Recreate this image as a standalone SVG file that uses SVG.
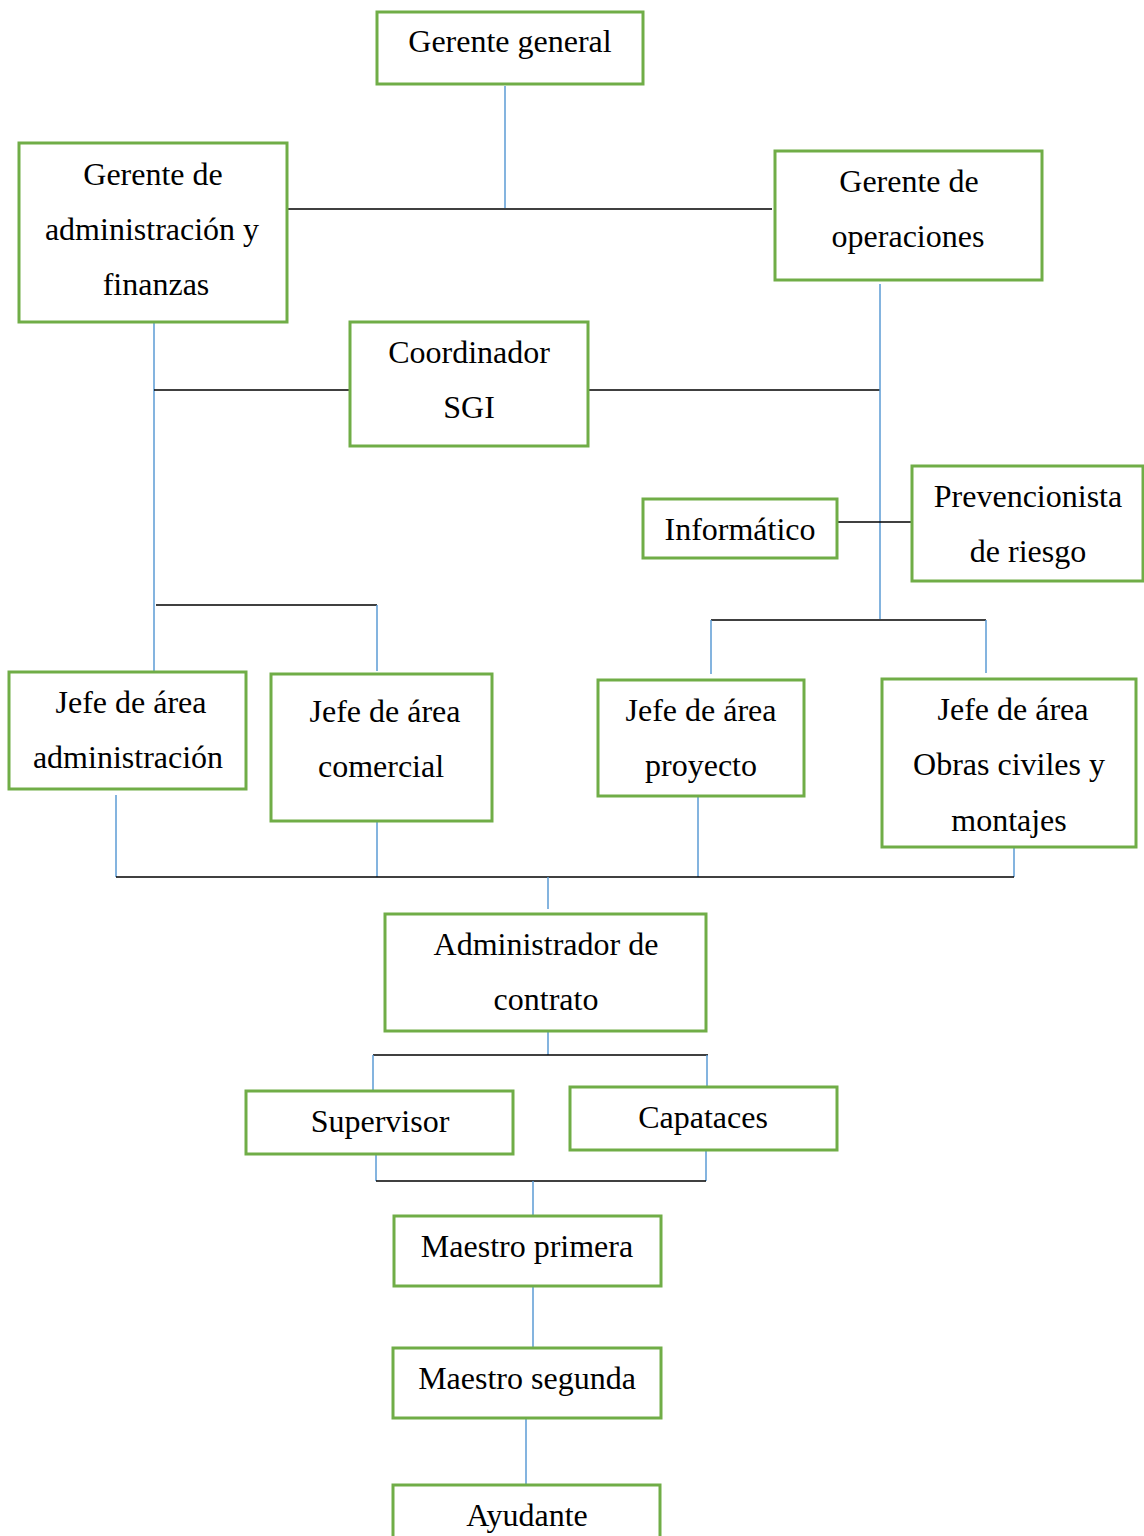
<svg xmlns="http://www.w3.org/2000/svg" width="1144" height="1536" viewBox="0 0 1144 1536">
<style>
.box{fill:#fff;stroke:#70AD47;stroke-width:3}
.t{font-family:"Liberation Serif","Times New Roman",serif;font-size:32px;fill:#000;text-anchor:middle}
.b{stroke:#5B9BD5;stroke-width:1.5;fill:none}
.k{stroke:#000;stroke-width:1.5;fill:none}
</style>
<rect width="1144" height="1536" fill="#fff"/>
<g id="connectors">
<line class="b" x1="505" y1="86" x2="505" y2="208"/>
<line class="k" x1="287" y1="209" x2="772" y2="209"/>
<line class="b" x1="154" y1="323" x2="154" y2="671"/>
<line class="k" x1="154" y1="390" x2="350" y2="390"/>
<line class="k" x1="588" y1="390" x2="880" y2="390"/>
<line class="b" x1="880" y1="284" x2="880" y2="619"/>
<line class="k" x1="837" y1="522" x2="912" y2="522"/>
<line class="k" x1="156" y1="605" x2="377" y2="605"/>
<line class="b" x1="377" y1="605" x2="377" y2="671"/>
<line class="k" x1="711" y1="620" x2="986" y2="620"/>
<line class="b" x1="711" y1="620" x2="711" y2="674"/>
<line class="b" x1="986" y1="620" x2="986" y2="673"/>
<line class="b" x1="116" y1="795" x2="116" y2="877"/>
<line class="b" x1="377" y1="822" x2="377" y2="877"/>
<line class="b" x1="698" y1="797" x2="698" y2="877"/>
<line class="b" x1="1014" y1="848" x2="1014" y2="877"/>
<line class="k" x1="116" y1="877" x2="1014" y2="877"/>
<line class="b" x1="548" y1="877" x2="548" y2="909"/>
<line class="b" x1="548" y1="1032" x2="548" y2="1055"/>
<line class="k" x1="373" y1="1055" x2="708" y2="1055"/>
<line class="b" x1="373" y1="1055" x2="373" y2="1090"/>
<line class="b" x1="707" y1="1055" x2="707" y2="1090"/>
<line class="b" x1="376" y1="1155" x2="376" y2="1181"/>
<line class="b" x1="706" y1="1151" x2="706" y2="1181"/>
<line class="k" x1="376" y1="1181" x2="706" y2="1181"/>
<line class="b" x1="533" y1="1181" x2="533" y2="1215"/>
<line class="b" x1="533" y1="1287" x2="533" y2="1347"/>
<line class="b" x1="526" y1="1419" x2="526" y2="1484"/>
</g>
<g id="gerente-general"><rect class="box" x="377" y="12" width="266" height="72"/><text class="t" x="510" y="52">Gerente general</text></g>
<g id="gerente-admin"><rect class="box" x="19" y="143" width="268" height="179"/><text class="t" x="153" y="185">Gerente de</text><text class="t" x="152" y="240">administración y</text><text class="t" x="156" y="295">finanzas</text></g>
<g id="gerente-operaciones"><rect class="box" x="775" y="151" width="267" height="129"/><text class="t" x="909" y="192">Gerente de</text><text class="t" x="908" y="247">operaciones</text></g>
<g id="coordinador-sgi"><rect class="box" x="350" y="322" width="238" height="124"/><text class="t" x="469" y="363">Coordinador</text><text class="t" x="469" y="418">SGI</text></g>
<g id="informatico"><rect class="box" x="643" y="499" width="194" height="59"/><text class="t" x="740" y="540">Informático</text></g>
<g id="prevencionista"><rect class="box" x="912" y="466" width="231" height="115"/><text class="t" x="1028" y="507">Prevencionista</text><text class="t" x="1028" y="562">de riesgo</text></g>
<g id="jefe-administracion"><rect class="box" x="9" y="672" width="237" height="117"/><text class="t" x="131" y="713">Jefe de área</text><text class="t" x="128" y="768">administración</text></g>
<g id="jefe-comercial"><rect class="box" x="271" y="674" width="221" height="147"/><text class="t" x="385" y="722">Jefe de área</text><text class="t" x="381" y="777">comercial</text></g>
<g id="jefe-proyecto"><rect class="box" x="598" y="680" width="206" height="116"/><text class="t" x="701" y="721">Jefe de área</text><text class="t" x="701" y="776">proyecto</text></g>
<g id="jefe-obras"><rect class="box" x="882" y="679" width="254" height="168"/><text class="t" x="1013" y="720">Jefe de área</text><text class="t" x="1009" y="775">Obras civiles y</text><text class="t" x="1009" y="831">montajes</text></g>
<g id="administrador-contrato"><rect class="box" x="385" y="914" width="321" height="117"/><text class="t" x="546" y="955">Administrador de</text><text class="t" x="546" y="1010">contrato</text></g>
<g id="supervisor"><rect class="box" x="246" y="1091" width="267" height="63"/><text class="t" x="380" y="1132">Supervisor</text></g>
<g id="capataces"><rect class="box" x="570" y="1087" width="267" height="63"/><text class="t" x="703" y="1128">Capataces</text></g>
<g id="maestro-primera"><rect class="box" x="394" y="1216" width="267" height="70"/><text class="t" x="527" y="1257">Maestro primera</text></g>
<g id="maestro-segunda"><rect class="box" x="393" y="1348" width="268" height="70"/><text class="t" x="527" y="1389">Maestro segunda</text></g>
<g id="ayudante"><rect class="box" x="393" y="1485" width="267" height="60"/><text class="t" x="527" y="1526">Ayudante</text></g>
</svg>
